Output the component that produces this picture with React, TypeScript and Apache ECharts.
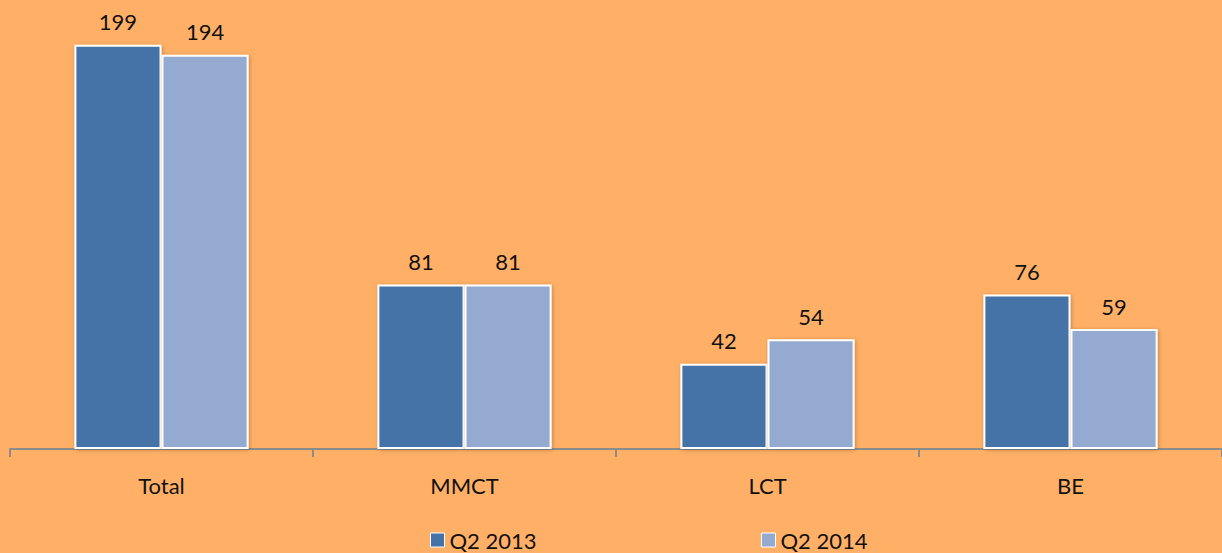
import React, { useEffect, useRef } from "react";
import * as echarts from "echarts";

const categories = ["Total", "MMCT", "LCT", "BE"];
const seriesNames = ["Q2 2013", "Q2 2014"];
const q2013 = [199, 81, 42, 76];
const q2014 = [194, 81, 54, 59];

export default function App() {
  const ref = useRef<HTMLDivElement>(null);
  useEffect(() => {
    const chart = echarts.init(ref.current!, null, { renderer: "svg" });
    const font = "Lato, 'Open Sans', sans-serif";
    const labelStyle = {
      show: true,
      position: "top" as const,
      distance: 12,
      color: "#111",
      fontSize: 22,
      fontFamily: font,
    };
    const itemBase = {
      borderColor: "#ffffff",
      borderWidth: 2,
      shadowColor: "rgba(0,0,0,0.25)",
      shadowBlur: 4,
      shadowOffsetX: 1,
      shadowOffsetY: 1,
    };
    const legendBase = {
      top: 529,
      padding: 0,
      itemWidth: 14,
      itemHeight: 14,
      icon: "rect",
      itemStyle: { borderColor: "#fff", borderWidth: 1 },
      textStyle: { fontSize: 22, lineHeight: 22, fontFamily: font, color: "#111" },
    };
    chart.setOption({
      animation: false,
      backgroundColor: "#FFB066",
      grid: { left: 10, right: 0, top: 2, bottom: 104, containLabel: false },
      legend: [
        { ...legendBase, data: [seriesNames[0]], left: 430 },
        { ...legendBase, data: [seriesNames[1]], left: 761 },
      ],
      xAxis: {
        type: "category",
        data: categories,
        axisLine: { lineStyle: { color: "#8c8c8c", width: 2 } },
        axisTick: { show: true, length: 8, lineStyle: { color: "#8c8c8c", width: 2 } },
        axisLabel: { fontSize: 22, fontFamily: font, color: "#111", margin: 25 },
      },
      yAxis: {
        type: "value",
        min: 0,
        max: 220,
        show: false,
        splitLine: { show: false },
      },
      series: [
        {
          name: seriesNames[0],
          type: "bar",
          data: q2013,
          barGap: "0%",
          barCategoryGap: "42.5%",
          itemStyle: { ...itemBase, color: "#4573A7" },
          label: labelStyle,
        },
        {
          name: seriesNames[1],
          type: "bar",
          data: q2014,
          barGap: "0%",
          barCategoryGap: "42.5%",
          itemStyle: { ...itemBase, color: "#95AAD1" },
          label: labelStyle,
        },
      ],
    });
    return () => chart.dispose();
  }, []);
  return (
    <div
      ref={ref}
      style={{ position: "fixed", left: 0, top: 0, width: 1222, height: 553 }}
    />
  );
}
